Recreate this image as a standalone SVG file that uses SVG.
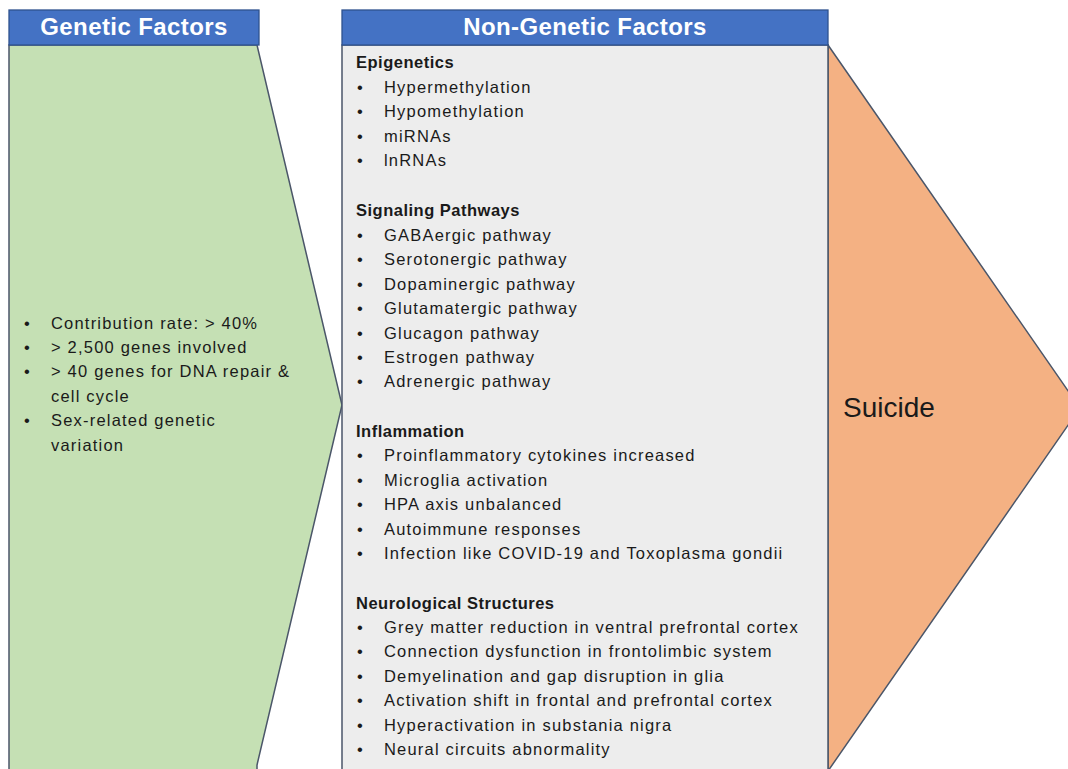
<svg xmlns="http://www.w3.org/2000/svg" width="1068" height="769" viewBox="0 0 1068 769">
<style>
.hdr{fill:#4472C4;stroke:#2F528F;stroke-width:1.3}
.ht{font-family:"Liberation Sans",Arial,sans-serif;font-weight:bold;font-size:24px;letter-spacing:0.4px;fill:#fff;text-anchor:middle}
.t{font-family:"Liberation Sans",Arial,sans-serif;font-size:16.5px;letter-spacing:1.2px;fill:#1a1a1a}
.b{font-weight:bold;letter-spacing:0.5px}
.shape{stroke:#4B5669;stroke-width:1.5}
</style>
<rect width="1068" height="769" fill="#fff"/>
<g id="suicide">
<polygon class="shape" points="828,45 1080,408 828,771" fill="#F4B183"/>
<text x="843" y="417" font-family="'Liberation Sans',Arial,sans-serif" font-size="28px" fill="#1a1a1a">Suicide</text>
</g>
<g id="genetic">
<polygon class="shape" points="9,45 257,45 342,405 257,765 257,772 9,772" fill="#C5E0B4"/>
<rect class="hdr" x="9" y="10" width="250" height="35"/>
<text class="ht" x="134" y="35">Genetic Factors</text>
<g class="t">
<text x="24" y="329">•</text><text x="51" y="329">Contribution rate: &gt; 40%</text>
<text x="24" y="353">•</text><text x="51" y="353">&gt; 2,500 genes involved</text>
<text x="24" y="377">•</text><text x="51" y="377">&gt; 40 genes for DNA repair &amp;</text>
<text x="51" y="402">cell cycle</text>
<text x="24" y="426">•</text><text x="51" y="426">Sex-related genetic</text>
<text x="51" y="451">variation</text>
</g>
</g>
<g id="nongenetic">
<rect class="shape" x="342" y="45" width="486" height="730" fill="#EDEDED"/>
<rect class="hdr" x="342" y="10" width="486" height="35"/>
<text class="ht" x="585" y="35">Non-Genetic Factors</text>
<g class="t">
<text class="b" x="356" y="68">Epigenetics</text>
<text x="357" y="93">•</text><text x="384" y="93">Hypermethylation</text>
<text x="357" y="117">•</text><text x="384" y="117">Hypomethylation</text>
<text x="357" y="142">•</text><text x="384" y="142">miRNAs</text>
<text x="357" y="166">•</text><text x="384" y="166">lnRNAs</text>
<text class="b" x="356" y="216">Signaling Pathways</text>
<text x="357" y="241">•</text><text x="384" y="241">GABAergic pathway</text>
<text x="357" y="265">•</text><text x="384" y="265">Serotonergic pathway</text>
<text x="357" y="290">•</text><text x="384" y="290">Dopaminergic pathway</text>
<text x="357" y="314">•</text><text x="384" y="314">Glutamatergic pathway</text>
<text x="357" y="339">•</text><text x="384" y="339">Glucagon pathway</text>
<text x="357" y="363">•</text><text x="384" y="363">Estrogen pathway</text>
<text x="357" y="387">•</text><text x="384" y="387">Adrenergic pathway</text>
<text class="b" x="356" y="437">Inflammation</text>
<text x="357" y="461">•</text><text x="384" y="461">Proinflammatory cytokines increased</text>
<text x="357" y="486">•</text><text x="384" y="486">Microglia activation</text>
<text x="357" y="510">•</text><text x="384" y="510">HPA axis unbalanced</text>
<text x="357" y="535">•</text><text x="384" y="535">Autoimmune responses</text>
<text x="357" y="559">•</text><text x="384" y="559">Infection like COVID-19 and Toxoplasma gondii</text>
<text class="b" x="356" y="609">Neurological Structures</text>
<text x="357" y="633">•</text><text x="384" y="633">Grey matter reduction in ventral prefrontal cortex</text>
<text x="357" y="657">•</text><text x="384" y="657">Connection dysfunction in frontolimbic system</text>
<text x="357" y="682">•</text><text x="384" y="682">Demyelination and gap disruption in glia</text>
<text x="357" y="706">•</text><text x="384" y="706">Activation shift in frontal and prefrontal cortex</text>
<text x="357" y="731">•</text><text x="384" y="731">Hyperactivation in substania nigra</text>
<text x="357" y="755">•</text><text x="384" y="755">Neural circuits abnormality</text>
</g>
</g>
<g id="connectors"></g>
</svg>
